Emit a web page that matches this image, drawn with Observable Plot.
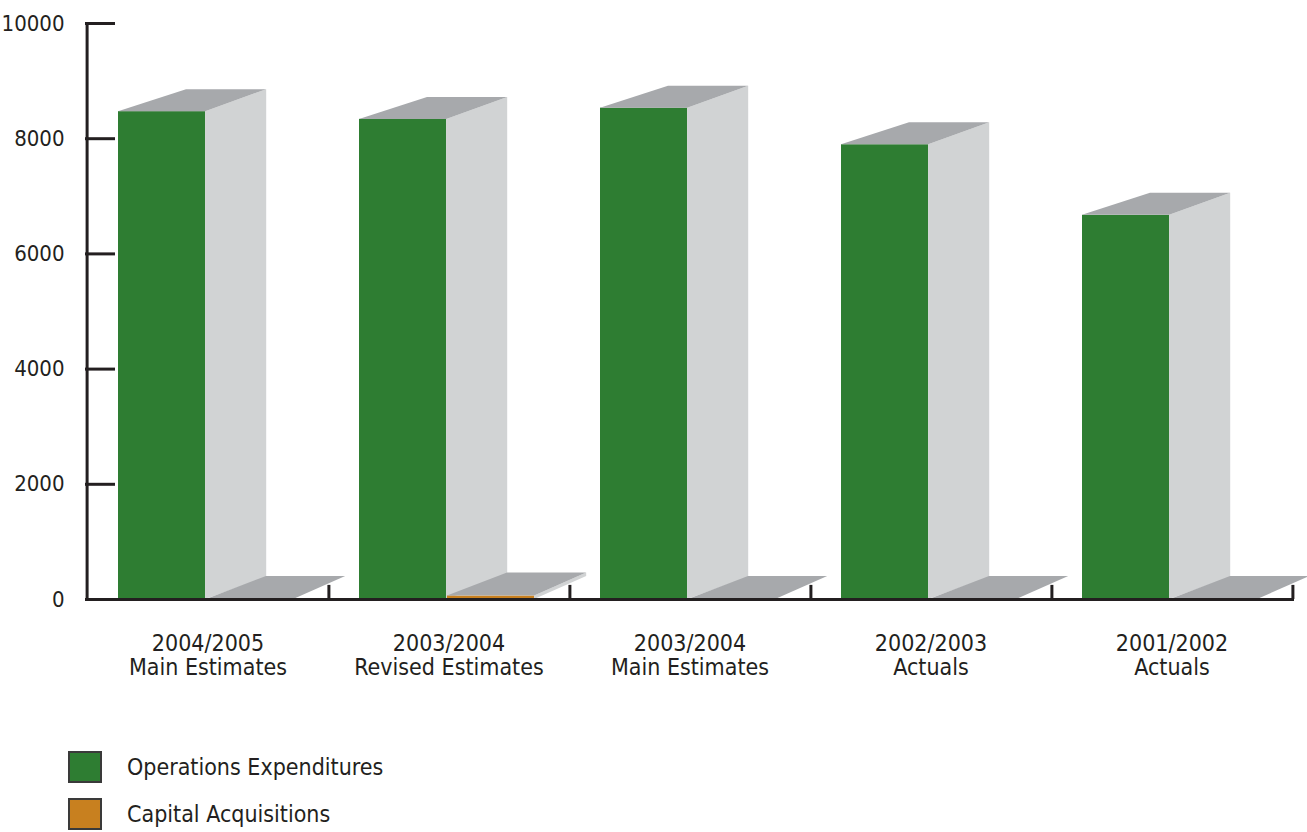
<!DOCTYPE html>
<html><head><meta charset="utf-8">
<script src="https://cdn.jsdelivr.net/npm/d3@7"></script>
<script src="https://cdn.jsdelivr.net/npm/@observablehq/plot@0.6"></script>
<style>
body{margin:0;background:#fff;font-family:"Liberation Sans Narrow","DejaVu Sans Condensed","Roboto",sans-serif;color:#231f20;}
#legend{position:relative;height:102px;}
.item{position:absolute;left:68px;display:flex;align-items:center;font-size:23px;}
.sw{width:30px;height:28px;border:2px solid #3a3a3a;margin-right:25px;}
</style></head><body>
<div id="chart"></div>
<div id="legend"></div>
<script>
const years = ["2004/2005", "2003/2004", "2003/2004", "2002/2003", "2001/2002"];
const kinds = ["Main Estimates", "Revised Estimates", "Main Estimates", "Actuals", "Actuals"];
const operations = [8470, 8335, 8530, 7895, 6670];
const capital = [0, 60, 0, 0, 0];
const yTicks = [0, 2000, 4000, 6000, 8000, 10000];
const seriesNames = ["Operations Expenditures", "Capital Acquisitions"];
const seriesColors = ["#2e7d32", "#c8801f"];

const categories = years.map((y, i) => i);
const opsData = categories.map(i => ({cat: i, value: operations[i]}));
const capData = categories.map(i => ({cat: i, value: capital[i]}));

const W = 1307, H = 730, mL = 85, mR = 13, mT = 23, mB = 131;
const bw = (W - mL - mR) / categories.length;
const barW = 88, offL = 31;

function prism({insetLeft, insetRight, depthL, depthR, rise, topFill, sideFill}) {
  return function(index, scales, values, dimensions, context, next) {
    const g = next(index, scales, values, dimensions, context);
    const bx = scales.x;
    const band = typeof bx.bandwidth === "function" ? bx.bandwidth() : bx.bandwidth;
    const X = values.x, Y1 = values.y1, Y2 = values.y2;
    const layer = d3.create("svg:g");
    for (const i of index) {
      const xl = X[i] + insetLeft, xr = X[i] + band - insetRight;
      const yb = Math.max(Y1[i], Y2[i]), yt = Math.min(Y1[i], Y2[i]);
      layer.append("path").attr("fill", sideFill)
        .attr("d", `M${xr},${yt}L${xr + depthR},${yt - rise}L${xr + depthR},${yb - rise}L${xr},${yb}Z`);
      layer.append("path").attr("fill", topFill)
        .attr("d", `M${xl},${yt}L${xl + depthL},${yt - rise}L${xr + depthR},${yt - rise}L${xr},${yt}Z`);
    }
    g.appendChild(layer.node());
    return g;
  };
}

const chart = Plot.plot({
  width: W, height: H,
  marginLeft: mL, marginRight: mR, marginTop: mT, marginBottom: mB,
  style: {fontFamily: '"Liberation Sans Narrow","DejaVu Sans Condensed",sans-serif', fontSize: "23px", color: "#231f20", background: "#fff", overflow: "visible"},
  x: {domain: categories, padding: 0},
  y: {domain: [0, 10000]},
  marks: [
    Plot.barY(opsData, {x: "cat", y: "value", fill: seriesColors[0],
      insetLeft: offL, insetRight: bw - offL - barW,
      render: prism({insetLeft: offL, insetRight: bw - offL - barW, depthL: 68, depthR: 61, rise: 22, topFill: "#a7a9ac", sideFill: "#d1d3d4"})}),
    Plot.barY(capData, {x: "cat", y: "value", fill: seriesColors[1],
      insetLeft: offL + barW, insetRight: bw - offL - 2 * barW,
      render: prism({insetLeft: offL + barW, insetRight: bw - offL - 2 * barW, depthL: 60, depthR: 52, rise: 23, topFill: "#a7a9ac", sideFill: "#d1d3d4"})}),
    Plot.ruleY(yTicks, {stroke: "#231f20", strokeWidth: 3, insetRight: W - mL - mR - 30}),
    Plot.ruleX([categories[0]], {x: d => d, dx: -bw / 2, y1: 0, y2: 10000, stroke: "#231f20", strokeWidth: 3}),
    Plot.ruleY([0], {stroke: "#231f20", strokeWidth: 3}),
    Plot.ruleX(categories, {x: d => d, dx: bw / 2, y1: 0, y2: 245, stroke: "#231f20", strokeWidth: 3}),
    Plot.axisY({ticks: yTicks, tickSize: 0, tickPadding: 21, fontSize: 22, tickFormat: d => String(d), label: null}),
    Plot.axisX({tickSize: 0, tickPadding: 34, label: null, lineHeight: 1.05,
      tickFormat: i => years[i] + "\n" + kinds[i]})
  ]
});
document.getElementById("chart").appendChild(chart);

const legend = document.getElementById("legend");
seriesNames.forEach((name, i) => {
  const item = document.createElement("div");
  item.className = "item";
  item.style.top = (21 + i * 47) + "px";
  const sw = document.createElement("div");
  sw.className = "sw";
  sw.style.background = seriesColors[i];
  const t = document.createElement("span");
  t.textContent = name;
  item.appendChild(sw); item.appendChild(t);
  legend.appendChild(item);
});
</script>
</body></html>
